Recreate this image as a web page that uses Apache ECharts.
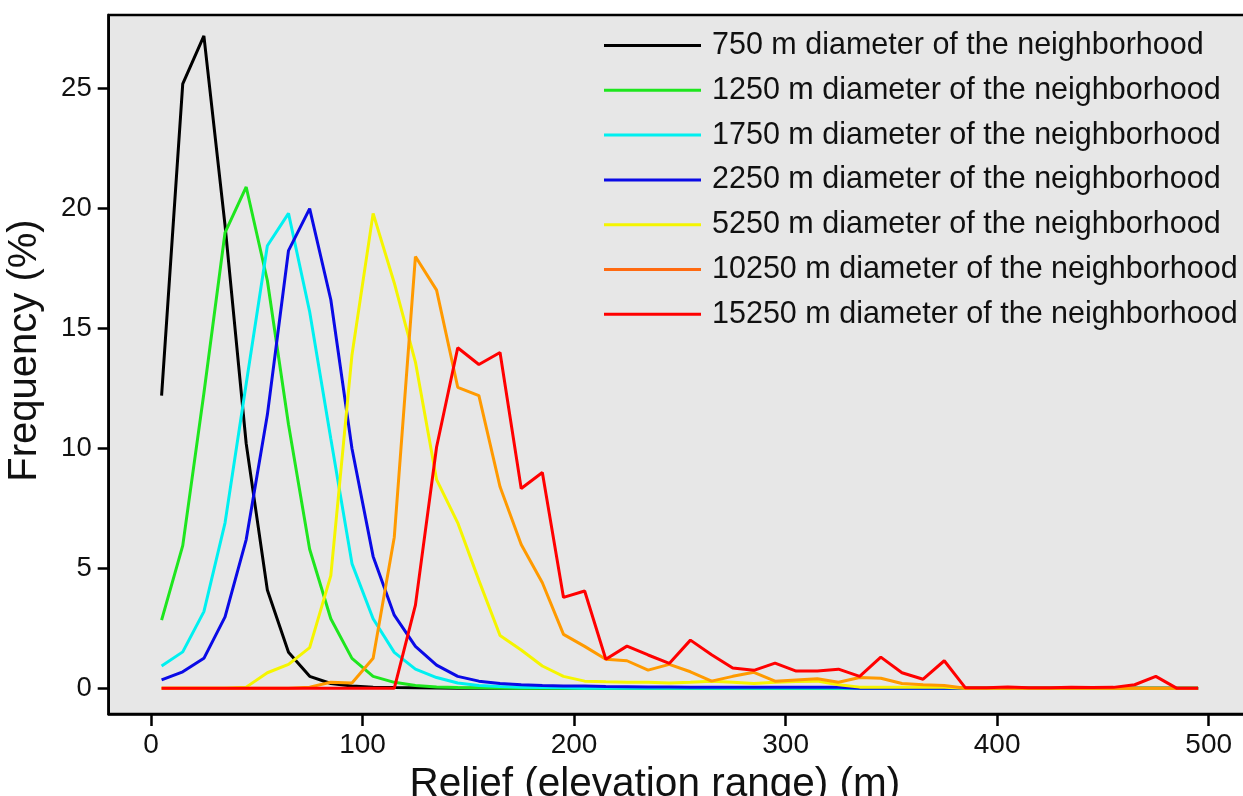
<!DOCTYPE html>
<html>
<head>
<meta charset="utf-8">
<script src="https://cdn.jsdelivr.net/npm/echarts@6/dist/echarts.min.js"></script>
<style>
  html, body { margin: 0; padding: 0; background: #fff; }
  #chart { width: 1243px; height: 796px; }
</style>
</head>
<body>
<div id="chart"></div>
<script>
// bin centres (m)
const relief = [5, 15, 25, 35, 45, 55, 65, 75, 85, 95, 105, 115, 125, 135, 145, 155, 165, 175, 185, 195,
  205, 215, 225, 235, 245, 255, 265, 275, 285, 295, 305, 315, 325, 335, 345, 355, 365, 375, 385, 395,
  405, 415, 425, 435, 445, 455, 465, 475, 485, 495];

// frequency (%) per neighborhood diameter
const d750 = [12.2, 25.2, 27.2, 19.3, 10.2, 4.1, 1.5, 0.5, 0.2, 0.1, 0.05, 0.03, 0.02, 0.01, 0, 0, 0, 0, 0, 0,
  0, 0, 0, 0, 0, 0, 0, 0, 0, 0, 0, 0, 0, 0, 0, 0, 0, 0, 0, 0,
  0, 0, 0, 0, 0, 0, 0, 0, 0, 0];
const d1250 = [2.84, 5.95, 12.3, 19.0, 20.9, 17.0, 11.0, 5.8, 2.9, 1.25, 0.5, 0.25, 0.12, 0.06, 0.03, 0.02, 0.01, 0, 0, 0,
  0, 0, 0, 0, 0, 0, 0, 0, 0, 0, 0, 0, 0, 0, 0, 0, 0, 0, 0, 0,
  0, 0, 0, 0, 0, 0, 0, 0, 0, 0];
const d1750 = [0.93, 1.52, 3.2, 6.9, 12.7, 18.45, 19.8, 15.7, 10.4, 5.2, 2.9, 1.5, 0.8, 0.45, 0.22, 0.12, 0.08, 0.05, 0.03, 0.02,
  0, 0, 0, 0, 0, 0, 0, 0, 0, 0, 0, 0, 0, 0, 0, 0, 0, 0, 0, 0,
  0, 0, 0, 0, 0, 0, 0, 0, 0, 0];
const d2250 = [0.35, 0.69, 1.25, 2.98, 6.2, 11.4, 18.25, 20.0, 16.2, 10.0, 5.5, 3.05, 1.75, 0.97, 0.5, 0.3, 0.2, 0.15, 0.12, 0.1,
  0.1, 0.08, 0.07, 0.06, 0.06, 0.05, 0.05, 0.05, 0.05, 0.05, 0.05, 0.05, 0.05, 0, 0, 0, 0, 0, 0, 0,
  0, 0, 0, 0, 0, 0, 0, 0, 0, 0];
const d5250 = [0, 0, 0, 0, 0.05, 0.65, 1.0, 1.7, 4.7, 13.9, 19.8, 16.9, 13.6, 8.7, 6.9, 4.5, 2.2, 1.6, 0.93, 0.5,
  0.3, 0.27, 0.25, 0.25, 0.22, 0.25, 0.3, 0.25, 0.2, 0.25, 0.28, 0.3, 0.15, 0.05, 0.05, 0.05, 0.05, 0.05, 0, 0,
  0, 0, 0, 0, 0, 0, 0, 0, 0, 0];
const d10250 = [0, 0, 0, 0, 0, 0, 0, 0.05, 0.25, 0.22, 1.25, 6.3, 18.0, 16.6, 12.55, 12.2, 8.4, 6.0, 4.4, 2.25,
  1.75, 1.21, 1.15, 0.76, 1.0, 0.69, 0.3, 0.5, 0.67, 0.3, 0.35, 0.4, 0.25, 0.45, 0.42, 0.2, 0.15, 0.12, 0, 0,
  0, 0, 0, 0, 0, 0, 0, 0, 0, 0];
const d15250 = [0, 0, 0, 0, 0, 0, 0, 0, 0, 0, 0, 0, 3.47, 10.06, 14.2, 13.5, 14.0, 8.33, 9.0, 3.79,
  4.06, 1.21, 1.76, 1.39, 1.04, 2.01, 1.4, 0.85, 0.75, 1.05, 0.72, 0.72, 0.8, 0.5, 1.3, 0.65, 0.38, 1.15, 0.02, 0.02,
  0.06, 0.02, 0.02, 0.05, 0.03, 0.04, 0.15, 0.5, 0, 0];

const names = [
  '750 m diameter of the neighborhood',
  '1250 m diameter of the neighborhood',
  '1750 m diameter of the neighborhood',
  '2250 m diameter of the neighborhood',
  '5250 m diameter of the neighborhood',
  '10250 m diameter of the neighborhood',
  '15250 m diameter of the neighborhood'
];
const values = [d750, d1250, d1750, d2250, d5250, d10250, d15250];
const colors = ['#000000', '#1ee61e', '#00f0f0', '#0a0ae6', '#f5f500', '#ff9a00', '#ff0000'];
// the legend swatch of the 10250 m series is a redder orange than its line
const legendColors = ['#000000', '#1ee61e', '#00f0f0', '#0a0ae6', '#f5f500', '#ff6a10', '#ff0000'];

const xTicks = [0, 100, 200, 300, 400, 500];
const yTicks = [0, 5, 10, 15, 20, 25];

const font = 'Liberation Sans, Arial, sans-serif';

const chart = echarts.init(document.getElementById('chart'), null, { renderer: 'canvas' });

const series = names.map((name, i) => ({
  name: name,
  type: 'line',
  symbol: 'none',
  data: relief.map((x, j) => [x, values[i][j]]),
  lineStyle: { color: colors[i], width: 3 },
  itemStyle: { color: colors[i] },
  z: 2 + i
}));

chart.setOption({
  animation: false,
  backgroundColor: '#fff',
  grid: {
    left: 108.7, top: 15, width: 1142.3, height: 699,
    outerBoundsMode: 'none', containLabel: false,
    show: true, backgroundColor: '#e7e7e7', borderColor: '#000', borderWidth: 2.5
  },
  legend: {
    orient: 'vertical',
    left: 604, top: 30, padding: 0,
    icon: 'rect',
    itemWidth: 97, itemHeight: 3, itemGap: 13.8,
    textStyle: { fontFamily: font, fontSize: 30.5, color: '#111', lineHeight: 30, padding: [0, 0, 0, 6] },
    data: names.map((name, i) => ({ name: name, itemStyle: { color: legendColors[i] } }))
  },
  xAxis: {
    type: 'value',
    min: -20, max: 520,
    splitLine: { show: false },
    axisLine: { show: true, onZero: false, lineStyle: { color: '#000', width: 2.5 } },
    axisTick: { show: true, length: 12, lineStyle: { color: '#000', width: 2.5 }, customValues: xTicks },
    axisLabel: { fontFamily: font, fontSize: 28, color: '#111', margin: 17, customValues: xTicks },
    name: 'Relief (elevation range) (m)',
    nameLocation: 'middle',
    nameGap: 43,
    nameTextStyle: { fontFamily: font, fontSize: 40.5, color: '#111', padding: [0, 50, 0, 0] }
  },
  yAxis: {
    type: 'value',
    min: -1.07, max: 28.07,
    splitLine: { show: false },
    axisLine: { show: true, onZero: false, lineStyle: { color: '#000', width: 2.5 } },
    axisTick: { show: true, length: 11, lineStyle: { color: '#000', width: 2.5 }, customValues: yTicks },
    axisLabel: { fontFamily: font, fontSize: 27.5, color: '#111', margin: 17, customValues: yTicks },
    name: 'Frequency (%)',
    nameLocation: 'middle',
    nameGap: 64,
    nameTextStyle: { fontFamily: font, fontSize: 40, color: '#111', padding: [0, 0, 0, 28] }
  },
  series: series
});
</script>
</body>
</html>
